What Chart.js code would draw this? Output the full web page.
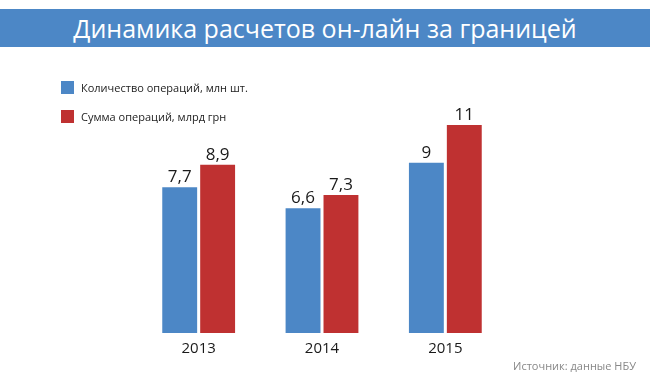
<!DOCTYPE html>
<html><head><meta charset="utf-8">
<script src="https://cdn.jsdelivr.net/npm/chart.js@4/dist/chart.umd.min.js"></script>
<style>
html,body{margin:0;padding:0;background:#fff;}
#wrap{position:relative;width:650px;height:381px;overflow:hidden;font-family:"Open Sans",sans-serif;}
#band{position:absolute;left:0;top:9px;width:650px;height:38px;background:#4C87C6;color:#fff;font-size:25px;line-height:38px;text-align:center;}
.lg{position:absolute;left:61px;font-size:11px;color:#222;height:14px;line-height:14px;}
.lg span{display:inline-block;width:13px;height:13px;vertical-align:top;margin-right:7px;}
#src{position:absolute;right:14px;top:358px;font-size:11px;color:#888;}
canvas{position:absolute;left:0;top:0;}
</style></head><body>
<div id="wrap">
<canvas id="c" width="650" height="381"></canvas>
<div id="band">Динамика расчетов он-лайн за границей</div>
<div class="lg" style="top:81px"><span style="background:#4C87C6"></span>Количество операций, млн шт.</div>
<div class="lg" style="top:110px"><span style="background:#BF3131"></span>Сумма операций, млрд грн</div>
<div id="src">Источник: данные НБУ</div>
</div>
<script>
const years = ["2013","2014","2015"];
const countOps = [7.7, 6.6, 9];
const sumOps = [8.9, 7.3, 11];
const seriesNames = ["Количество операций, млн шт.","Сумма операций, млрд грн"];
const colors = ["#4C87C6","#BF3131"];

const valueLabels = {
  id:'valueLabels',
  afterDatasetsDraw(chart){
    const ctx = chart.ctx;
    ctx.save();
    ctx.font = '17px "Open Sans"';
    ctx.fillStyle = '#1a1a1a';
    ctx.textAlign = 'center';
    ctx.textBaseline = 'alphabetic';
    chart.data.datasets.forEach((ds,i)=>{
      chart.getDatasetMeta(i).data.forEach((bar,j)=>{
        ctx.fillText(String(ds.data[j]).replace('.',','), bar.x, bar.y-5);
      });
    });
    ctx.restore();
  }
};

new Chart(document.getElementById('c'),{
  type:'bar',
  data:{labels:years,datasets:[
    {label:seriesNames[0],data:countOps,backgroundColor:colors[0]},
    {label:seriesNames[1],data:sumOps,backgroundColor:colors[1]}
  ]},
  options:{
    responsive:false,animation:false,
    layout:{padding:{left:137,right:143,top:106,bottom:16}},
    plugins:{legend:{display:false},title:{display:false},tooltip:{enabled:false}},
    datasets:{bar:{categoryPercentage:0.615,barPercentage:0.92}},
    scales:{
      y:{display:false,min:0,max:12},
      x:{grid:{display:false,drawTicks:false},border:{display:false},
         ticks:{padding:7,color:'#1a1a1a',font:{family:'"Open Sans"',size:15}}}
    }
  },
  plugins:[valueLabels]
});
</script>
</body></html>
